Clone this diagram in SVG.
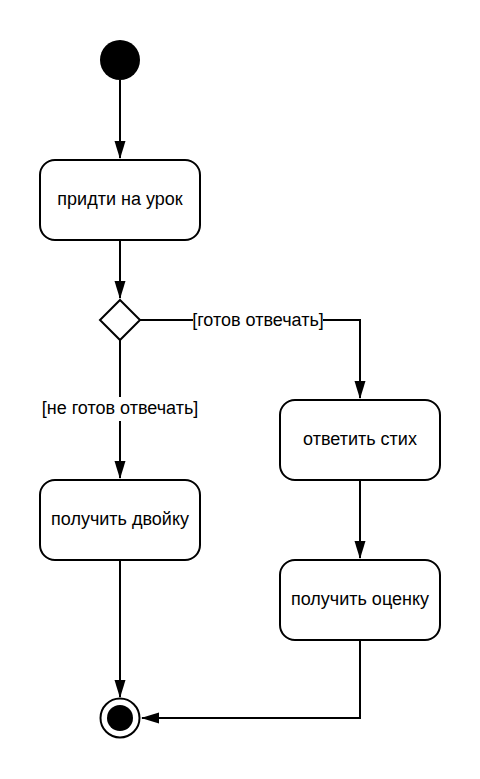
<svg xmlns="http://www.w3.org/2000/svg" width="480" height="779" viewBox="0 0 480 779">
<style>
.box{fill:#fff;stroke:#000;stroke-width:2}
.t{font-family:"Liberation Sans",Arial,sans-serif;font-size:18px;fill:#000;text-anchor:middle;dominant-baseline:central}
.c{fill:none;stroke:#000;stroke-width:2}
</style>
<defs>
<marker id="ah" markerWidth="18" markerHeight="12" refX="17" refY="5.5" orient="auto" markerUnits="userSpaceOnUse" viewBox="0 0 18 11">
<path d="M0,0 L18,5.5 L0,11 Z" fill="#000"/>
</marker>
</defs>
<rect width="480" height="779" fill="#fff"/>
<g id="connectors">
<path class="c" d="M120,80 V158" marker-end="url(#ah)"/>
<path class="c" d="M120,240 V298" marker-end="url(#ah)"/>
<path class="c" d="M120,340 V478" marker-end="url(#ah)"/>
<path class="c" d="M140,320 H360 V398" marker-end="url(#ah)"/>
<path class="c" d="M360,480 V558" marker-end="url(#ah)"/>
<path class="c" d="M120,560 V697" marker-end="url(#ah)"/>
<path class="c" d="M360,640 V718 H142" marker-end="url(#ah)"/>
<rect x="193" y="310" width="130" height="20" fill="#fff"/>
<text class="t" x="258" y="320">[готов отвечать]</text>
<rect x="42" y="397" width="156" height="24" fill="#fff"/>
<text class="t" x="120" y="408">[не готов отвечать]</text>
</g>
<g id="start"><circle cx="120" cy="60" r="20" fill="#000"/></g>
<g id="n1"><rect class="box" x="40" y="160" width="160" height="80" rx="15"/><text class="t" x="120" y="199">придти на урок</text></g>
<g id="decision"><path class="box" d="M120,300 L140,320 L120,340 L100,320 Z"/></g>
<g id="n2"><rect class="box" x="40" y="480" width="160" height="80" rx="15"/><text class="t" x="120" y="519">получить двойку</text></g>
<g id="n3"><rect class="box" x="280" y="400" width="160" height="80" rx="15"/><text class="t" x="360" y="439">ответить стих</text></g>
<g id="n4"><rect class="box" x="280" y="560" width="160" height="80" rx="15"/><text class="t" x="360" y="599">получить оценку</text></g>
<g id="end"><circle cx="120" cy="718" r="19.5" fill="#fff" stroke="#000" stroke-width="2"/><circle cx="120" cy="718" r="13" fill="#000"/></g>
</svg>
